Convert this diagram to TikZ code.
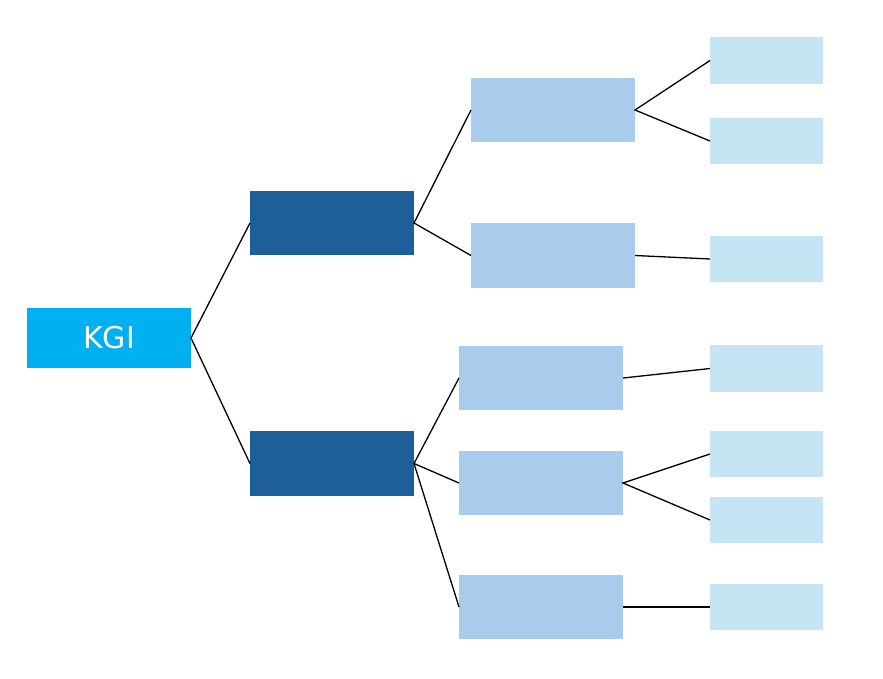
\documentclass[tikz,border=0pt]{standalone}
\usepackage{fontspec}
\setmainfont{DejaVu Sans}
\definecolor{kgi}{RGB}{0,176,240}
\definecolor{dark}{RGB}{31,95,153}
\definecolor{mid}{RGB}{169,203,236}
\definecolor{leaf}{RGB}{197,228,244}
\begin{document}
\begin{tikzpicture}[x=1pt,y=-1pt,
 bx/.style={inner sep=0pt,outer sep=0pt},
 ln/.style={draw=black,line width=1.3pt}]
\useasboundingbox (0,0) rectangle (883,678);
\newcommand\bx[6]{\fill[#6] (#2,#3) rectangle (#4,#5); \node[bx,minimum width=0pt] (#1) at ({(#2+#4)/2},{(#3+#5)/2}) {};
 \coordinate (#1w) at (#2,{(#3+#5)/2}); \coordinate (#1e) at (#4,{(#3+#5)/2});}
\bx{k}{27}{308}{191}{368}{kgi}
\node[text=white,font=\fontsize{30}{32}\selectfont] at (k) {KGI};
\bx{d1}{250}{191}{414}{255}{dark}
\bx{d2}{250}{431}{414}{496}{dark}
\bx{m1}{471}{78}{635}{142}{mid}
\bx{m2}{471}{223}{635}{288}{mid}
\bx{m3}{459}{346}{623}{410}{mid}
\bx{m4}{459}{451}{623}{515}{mid}
\bx{m5}{459}{575}{623}{639}{mid}
\bx{l1}{710}{37}{823}{84}{leaf}
\bx{l2}{710}{118}{823}{164}{leaf}
\bx{l3}{710}{236}{823}{282}{leaf}
\bx{l4}{710}{345}{823}{392}{leaf}
\bx{l5}{710}{431}{823}{477}{leaf}
\bx{l6}{710}{497}{823}{543}{leaf}
\bx{l7}{710}{584}{823}{630}{leaf}
\draw[ln] (d1w) -- (ke) -- (d2w);
\draw[ln] (m1w) -- (d1e) -- (m2w);
\draw[ln] (m3w) -- (d2e) -- (m4w);
\draw[ln] (d2e) -- (m5w);
\draw[ln] (l1w) -- (m1e) -- (l2w);
\draw[ln] (m2e) -- (l3w);
\draw[ln] (m3e) -- (l4w);
\draw[ln] (l5w) -- (m4e) -- (l6w);
\draw[ln] (m5e) -- (l7w);
\end{tikzpicture}
\end{document}
